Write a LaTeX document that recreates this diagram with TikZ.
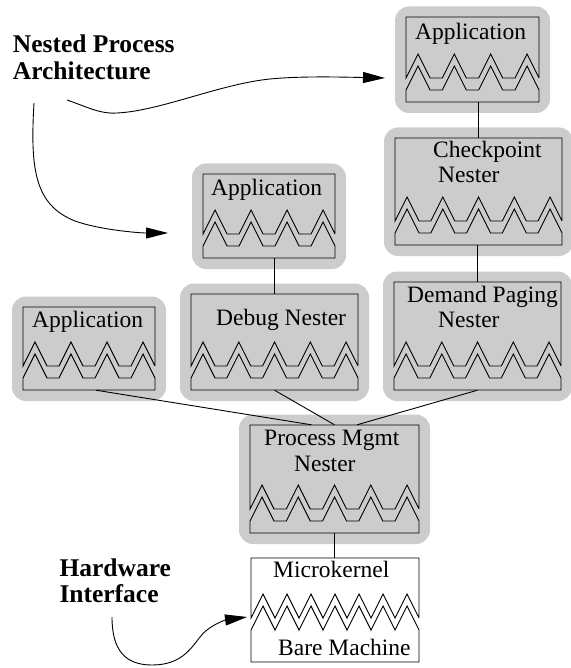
\documentclass[tikz,border=0pt]{standalone}
\usepackage{fontspec}
\setmainfont{Liberation Serif}
\usetikzlibrary{arrows.meta,fit,calc}

\tikzset{
  outl/.style={line width=0.9pt, line join=miter},
  bgbox/.style={fill=gray!40, rounded corners=14pt},
  boxtxt/.style={font=\fontsize{23.5}{28}\selectfont, inner sep=0pt, anchor=base west},
  lbltxt/.style={font=\fontsize{25.5}{27}\selectfont\bfseries, inner sep=0pt, anchor=base west},
  link/.style={line width=0.9pt},
  pointer/.style={line width=0.9pt, -{Triangle[length=22pt,width=11pt]}},
}

% #1 name, #2 x0, #3 top, #4 x1, #5 bottom, #6 teeth, #7 valley level of upper zigzag
\newcommand{\zzbox}[7]{%
  \pgfmathsetmacro\zzf{(#4-#2-24*#6)/(#6-1)}%
  \pgfmathsetmacro\zzp{24+\zzf}%
  \pgfmathtruncatemacro\zzm{#6-1}%
  \pgfmathsetmacro\zzl{#7+12}%
  \path (#2,#3) coordinate (#1-nw) (#4,#5) coordinate (#1-se);
  \node[fit=(#1-nw)(#1-se), inner sep=0pt] (#1) {};
  \draw[outl] (#4,#7) -- (#4,#3) -- (#2,#3) -- (#2,#7)
    \foreach \i in {0,...,\zzm} { -- ({#2+\i*\zzp},#7) -- ({#2+\i*\zzp+12},{#7-24}) -- ({#2+\i*\zzp+24},#7) };
  \draw[outl] (#2,\zzl)
    \foreach \i in {0,...,\zzm} { -- ({#2+\i*\zzp},\zzl) -- ({#2+\i*\zzp+12},{\zzl-24}) -- ({#2+\i*\zzp+24},\zzl) }
    -- (#4,#5) -- (#2,#5) -- cycle;
}
% gray surround: #1 x0, #2 top, #3 x1, #4 bottom
\newcommand{\gbox}[4]{%
  \fill[bgbox] ({#1-11},{#2-10.5}) rectangle ({#3+11},{#4+11});
}

\begin{document}
\begin{tikzpicture}[x=1pt,y=-1pt]
\useasboundingbox (0,0) rectangle (570,668);

% gray surrounds
\gbox{406}{17}{539}{102}
\gbox{395}{138}{562}{245}
\gbox{203}{174}{335}{258}
\gbox{191}{294}{358}{390}
\gbox{394}{282}{561}{390}
\gbox{23}{307}{155}{390}
\gbox{250}{425}{419}{533}

% boxes
\zzbox{ta}{406}{17}{539}{102}{4}{78}
\zzbox{ck}{395}{138}{562}{245}{5}{221}
\zzbox{ma}{203}{174}{335}{258}{4}{234}
\zzbox{db}{191}{294}{358}{390}{5}{366}
\zzbox{dp}{394}{282}{561}{390}{5}{366}
\zzbox{la}{23}{307}{155}{390}{4}{366}
\zzbox{pm}{250}{425}{419}{533}{5}{509}
\zzbox{mk}{251}{558}{419}{662}{7}{618}

% box texts
\node[boxtxt] (taT) at (415,40) {Application};
\node[boxtxt] (ckT1) at (433,158) {Checkpoint};
\node[boxtxt] (ckT2) at (438,183) {Nester};
\node[boxtxt] (maT) at (211,196) {Application};
\node[boxtxt] (dbT) at (216,325) {Debug Nester};
\node[boxtxt] (dpT1) at (407,302) {Demand Paging};
\node[boxtxt] (dpT2) at (438,327) {Nester};
\node[boxtxt] (laT) at (32,327) {Application};
\node[boxtxt] (pmT1) at (264,445) {Process Mgmt};
\node[boxtxt] (pmT2) at (294,471) {Nester};
\node[boxtxt] (mkT1) at (273,577) {Microkernel};
\node[boxtxt] (mkT2) at (278,655) {Bare Machine};

% connectors
\draw[link] (ck.north) -- (ck.north |- ta.south);
\draw[link] (dp.north) -- (dp.north |- ck.south);
\draw[link] (db.north) -- (db.north |- ma.south);
\draw[link] ([xshift=7pt]la.south) -- ([xshift=-23pt]pm.north);
\draw[link] (db.south) -- (pm.north);
\draw[link] (dp.south) -- ([xshift=22.5pt]pm.north);
\draw[link] (pm.south) -- (pm.south |- mk.north);

% labels
\node[lbltxt] (npa1) at (12.7,52.7) {Nested Process};
\node[lbltxt] (npa2) at (12.7,80) {Architecture};
\node[lbltxt] (hw1) at (59.3,576) {Hardware};
\node[lbltxt] (hw2) at (59.3,602.7) {Interface};

% pointers
\coordinate (p1s) at (67,100);
\coordinate (p1e) at (385,78);
\coordinate (p2s) at (34,103);
\coordinate (p2e) at (168,233);
\coordinate (p3s) at (112,617);
\coordinate (p3e) at (247,617);
\draw[pointer] (p1s) .. controls (90,108) and (100,114) .. (117,113)
  .. controls (160,111) and (220,84) .. (270,79)
  .. controls (300,76) and (340,77) .. (p1e);
\draw[pointer] (p2s) .. controls (30,170) and (35,205) .. (75,221)
  .. controls (100,230) and (140,233) .. (p2e);
\draw[pointer] (p3s) .. controls (112,650) and (125,665) .. (152,665)
  .. controls (180,665) and (190,650) .. (200,637)
  .. controls (208,626) and (225,620) .. (p3e);
\end{tikzpicture}
\end{document}
